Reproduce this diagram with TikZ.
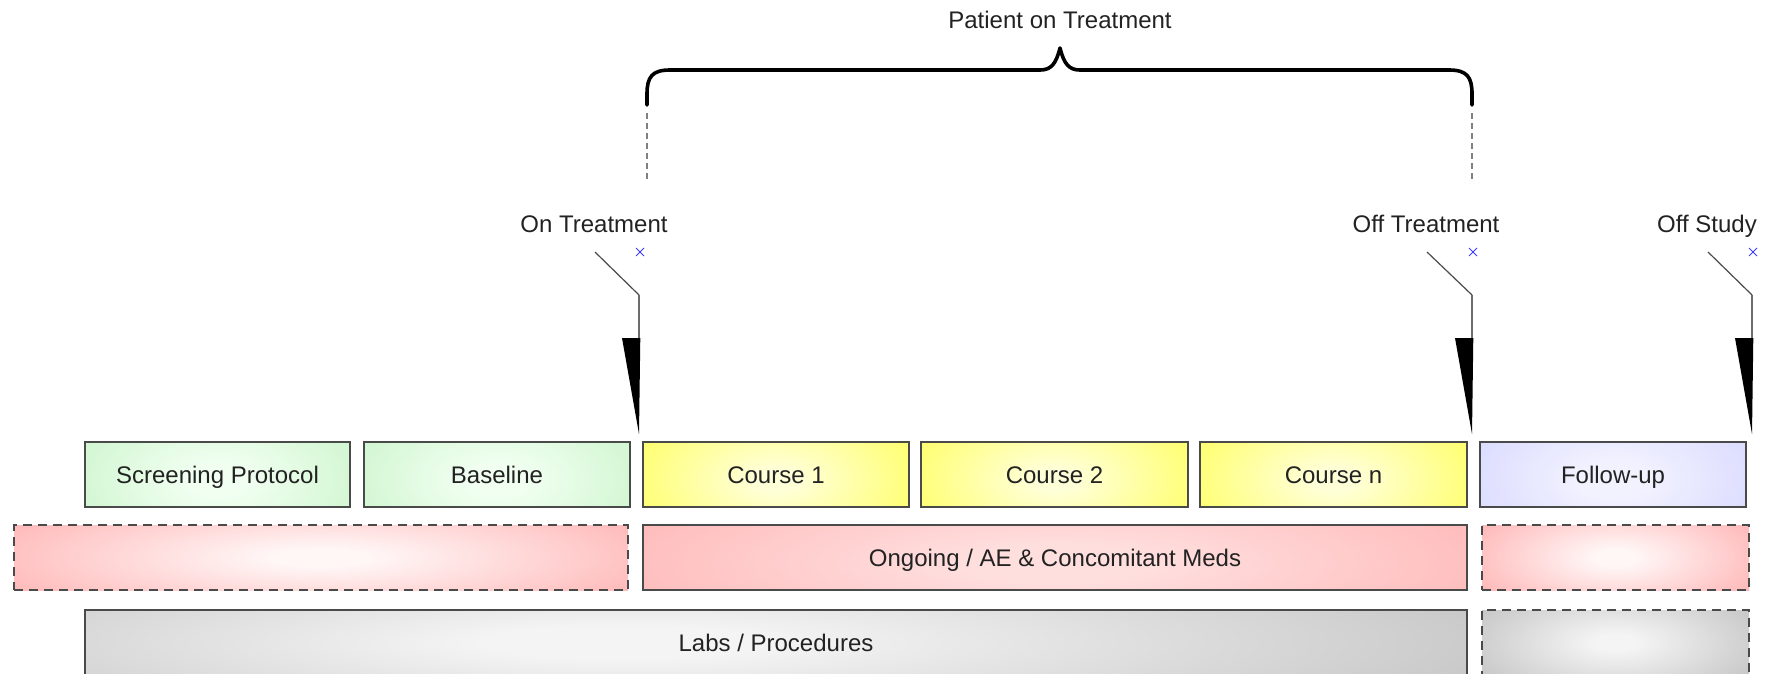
\documentclass[tikz,border=0pt]{standalone}
\usepackage{fontspec}
\setmainfont{Liberation Sans}
\definecolor{txtc}{HTML}{222222}
\definecolor{bordc}{HTML}{4A4A4A}
\definecolor{gE}{RGB}{190,240,190}
\definecolor{gC}{RGB}{240,255,240}
\definecolor{yE}{RGB}{255,255,60}
\definecolor{yC}{RGB}{255,255,215}
\definecolor{lE}{RGB}{205,205,255}
\definecolor{lC}{RGB}{242,242,255}
\definecolor{rE}{RGB}{255,168,168}
\definecolor{rC}{RGB}{255,246,246}
\definecolor{oC}{RGB}{255,222,222}
\definecolor{kE}{RGB}{188,188,188}
\definecolor{kC}{RGB}{244,244,244}
\definecolor{xblue}{RGB}{60,60,255}
\pgfdeclareradialshading{gglow}{\pgfpoint{0bp}{-2bp}}{color(0bp)=(gC); color(6bp)=(gC); color(42bp)=(gE); color(80bp)=(gE)}
\pgfdeclareradialshading{yglow}{\pgfpoint{0bp}{-2bp}}{color(0bp)=(yC); color(4bp)=(yC); color(40bp)=(yE); color(80bp)=(yE)}
\pgfdeclareradialshading{lglow}{\pgfpoint{0bp}{-2bp}}{color(0bp)=(lC); color(6bp)=(lC); color(42bp)=(lE); color(80bp)=(lE)}
\pgfdeclareradialshading{rglow}{\pgfpoint{0bp}{0bp}}{color(0bp)=(rC); color(4bp)=(rC); color(36bp)=(rE); color(80bp)=(rE)}
\pgfdeclareradialshading{oglow}{\pgfpoint{0bp}{-2bp}}{color(0bp)=(oC); color(6bp)=(oC); color(40bp)=(rE); color(80bp)=(rE)}
\pgfdeclareradialshading{kglow}{\pgfpoint{-6bp}{0bp}}{color(0bp)=(kC); color(5bp)=(kC); color(38bp)=(kE); color(80bp)=(kE)}
\pgfdeclareradialshading{kglowb}{\pgfpoint{0bp}{0bp}}{color(0bp)=(kC); color(4bp)=(kC); color(36bp)=(kE); color(80bp)=(kE)}
\begin{document}
\begin{tikzpicture}[x=1pt,y=-1pt,
  txt/.style={font=\fontsize{24}{28}\selectfont, text=txtc, text height=17.3pt, text depth=0pt},
  box/.style={draw=bordc, line width=1.8pt, minimum height=65pt, inner sep=0pt, txt},
  dbox/.style={box, dash pattern=on 9pt off 6pt},
  glow/.style n args={2}{path picture={\shade[shading=#1]
     ([yshift=-#2]path picture bounding box.south west) rectangle
     ([yshift=#2]path picture bounding box.north east);}},
  lbl/.style={txt, inner sep=0pt},
  diag/.style={draw=bordc, line width=1.2pt},
  stem/.style={draw=gray!85!black, line width=2.6pt},
  wedge/.style={fill=black},
  xmark/.style={draw=xblue, line width=1pt},
  guide/.style={draw=gray, line width=1.6pt, dash pattern=on 6pt off 4pt},
  bracestyle/.style={draw=black, line width=3.6pt, line cap=round, line join=round}
]
\useasboundingbox (0,0) rectangle (1777,673);

% row 1
\node[box, glow={gglow}{40pt}, minimum width=265pt] (scr) at (217.5,474.5) {Screening Protocol};
\node[box, glow={gglow}{40pt}, minimum width=266pt] (base) at (497,474.5) {Baseline};
\node[box, glow={yglow}{40pt}, minimum width=266pt] (c1) at (776,474.5) {Course 1};
\node[box, glow={yglow}{40pt}, minimum width=267pt] (c2) at (1054.5,474.5) {Course 2};
\node[box, glow={yglow}{40pt}, minimum width=267pt] (cn) at (1333.5,474.5) {Course n};
\node[box, glow={lglow}{40pt}, minimum width=266pt] (fu) at (1613,474.5) {Follow-up};

% row 2
\node[dbox, glow={rglow}{25pt}, minimum width=614pt] (pre) at (321,557.5) {};
\node[box, glow={oglow}{50pt}, minimum width=824pt] (ong) at (1055,557.5) {Ongoing / AE \& Concomitant Meds};
\node[dbox, glow={rglow}{20pt}, minimum width=267pt] (post) at (1615.5,557.5) {};

% row 3
\node[box, glow={kglow}{50pt}, minimum width=1382pt] (labs) at (776,642.5) {Labs / Procedures};
\node[dbox, glow={kglowb}{20pt}, minimum width=267pt] (labs2) at (1615.5,642.5) {};

% top brace
\node[lbl] (pt) at (1060,20) {Patient on Treatment};
\coordinate (bl) at (647,105);
\coordinate (br) at (1472,105);
\coordinate (bt) at (1060,48);
\draw[bracestyle] (bl) -- (647,94) .. controls (647,77) and (652,70) .. (670,70)
  -- (1040,70) .. controls (1051,70) and (1056,64) .. (bt)
  .. controls (1064,64) and (1069,70) .. (1080,70)
  -- (1449,70) .. controls (1467,70) and (1472,77) .. (1472,94) -- (br);
\coordinate (gl1) at (647,113);
\coordinate (gl2) at (647,181);
\coordinate (gr1) at (1472,113);
\coordinate (gr2) at (1472,181);
\draw[guide] (gl1) -- (gl2);
\draw[guide] (gr1) -- (gr2);

% markers
\node[lbl] (lon) at (594,224) {On Treatment};
\node[lbl] (loff) at (1426,224) {Off Treatment};
\node[lbl] (lstudy) at (1707,224) {Off Study};

\foreach \n/\lx/\mx in {on/595/639, off/1427/1472, st/1708/1752}{
  \coordinate (\n A) at (\lx,252);
  \coordinate (\n B) at (\mx,295);
  \coordinate (\n C) at (\mx,338);
  \coordinate (\n T) at (\mx,434);
  \draw[diag] (\n A) -- (\n B);
  \draw[stem] (\n B) -- (\n C);
  \fill[wedge] ([xshift=-17pt]\n C) -- ([xshift=1.3pt]\n C) -- (\n T) -- cycle;
  \coordinate (\n X) at (\mx+1,252);
  \draw[xmark] ([shift={(-4,-4)}]\n X) -- ([shift={(4,4)}]\n X);
  \draw[xmark] ([shift={(-4,4)}]\n X) -- ([shift={(4,-4)}]\n X);
}
\end{tikzpicture}
\end{document}
